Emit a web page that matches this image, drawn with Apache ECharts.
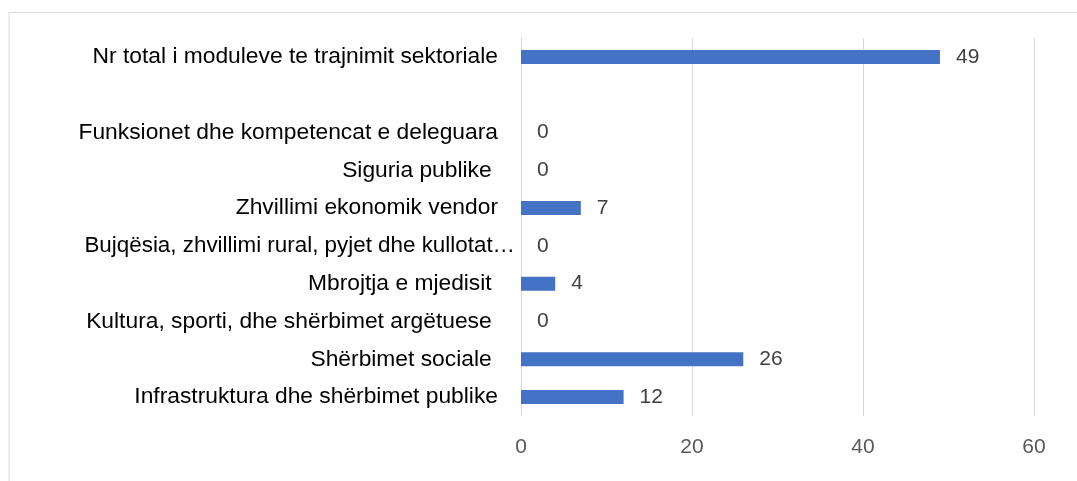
<!DOCTYPE html>
<html><head><meta charset="utf-8">
<script src="https://cdn.jsdelivr.net/npm/echarts@6/dist/echarts.min.js"></script>
<style>html,body{margin:0;padding:0;background:#fff}#c{width:1077px;height:481px}</style>
</head><body><div id="c"></div>
<script>
const categories = [
  'Infrastruktura dhe shërbimet publike',
  'Shërbimet sociale ',
  'Kultura, sporti, dhe shërbimet argëtuese ',
  'Mbrojtja e mjedisit ',
  'Bujqësia, zhvillimi rural, pyjet dhe kullotat…',
  'Zhvillimi ekonomik vendor',
  'Siguria publike ',
  'Funksionet dhe kompetencat e deleguara',
  '',
  'Nr total i moduleve te trajnimit sektoriale'
];
const values = [12, 26, 0, 4, 0, 7, 0, 0, null, 49];
const xTicks = [0, 20, 40, 60];

const FONT = '"Liberation Sans", Arial, sans-serif';
const chart = echarts.init(document.getElementById('c'), null, {renderer: 'canvas'});
chart.setOption({
  animation: false,
  backgroundColor: '#fff',
  grid: {left: 521, right: 43, top: 38, bottom: 65, containLabel: false},
  graphic: [{
    type: 'polyline',
    shape: {points: [[9, 490], [9, 12.5], [1090, 12.5]]},
    style: {stroke: '#d9d9d9', lineWidth: 1, fill: null}
  }],
  xAxis: {
    type: 'value', min: xTicks[0], max: xTicks[xTicks.length - 1], interval: 20,
    axisLine: {show: false}, axisTick: {show: false},
    splitLine: {show: true, showMinLine: true, lineStyle: {color: '#d9d9d9', width: 1}},
    axisLabel: {color: '#595959', fontSize: 21, fontFamily: FONT, margin: 21}
  },
  yAxis: {
    type: 'category', data: categories,
    axisLine: {show: true, lineStyle: {color: '#d9d9d9', width: 1}}, axisTick: {show: false},
    axisLabel: {
      color: '#000', fontSize: 22.8, fontFamily: FONT, margin: 23,
      formatter: function (v) { return v.endsWith('…') ? '{o|' + v + '}' : v; },
      rich: {o: {color: '#000', fontSize: 22.4, fontFamily: FONT, padding: [0, -17, 0, 0]}}
    }
  },
  series: [{
    type: 'bar', data: values, barWidth: 14,
    itemStyle: {color: '#4472C4'},
    label: {show: true, position: 'right', distance: 16, color: '#404040',
      fontSize: 21, fontFamily: FONT}
  }]
});
</script></body></html>
